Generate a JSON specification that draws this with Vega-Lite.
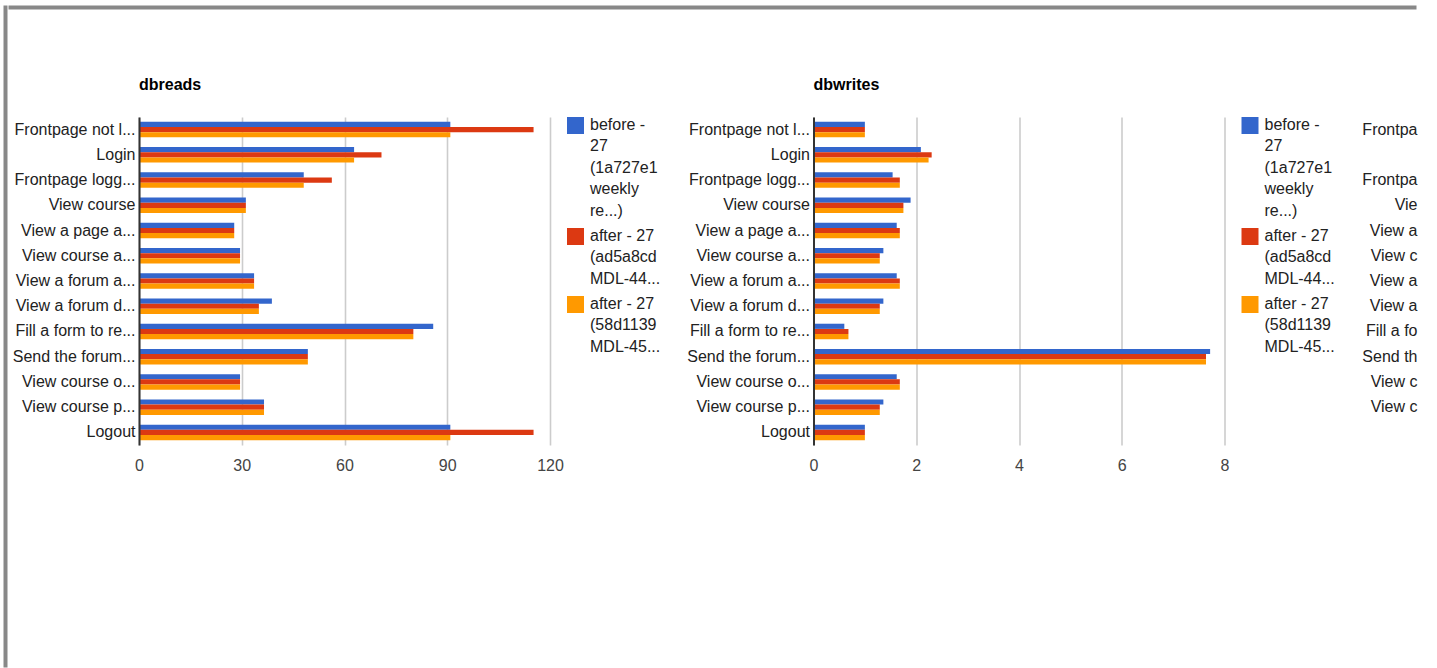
{
  "$schema": "https://vega.github.io/schema/vega-lite/v6.json",
  "background": "#ffffff",
  "padding": {"left": 3, "top": 5, "right": 0, "bottom": 0},
  "config": {
    "font": "Liberation Sans",
    "view": {"stroke": null},
    "axis": {"ticks": false, "tickSize": 0, "labelFontSize": 16, "labelFont": "Liberation Sans"},
    "axisX": {"domain": false, "grid": true, "gridColor": "#cccccc", "gridWidth": 1.6, "labelColor": "#444444", "labelPadding": 12, "labelFlush": false},
    "legend": {"orient": "right", "offset": 17, "symbolType": "square", "symbolSize": 289, "symbolStrokeWidth": 0, "symbolOpacity": 1, "labelFontSize": 16, "labelFont": "Liberation Sans", "labelColor": "#222222", "labelOffset": 6, "labelBaseline": "line-top", "rowPadding": 8, "padding": 0, "labelLimit": 200},
    "title": {"anchor": "start", "frame": "group", "fontSize": 16, "fontWeight": "bold", "color": "#000000", "offset": 24, "baseline": "alphabetic", "font": "Liberation Sans"}
  },
  "datasets": {
    "tasks": [
      {"task": "Frontpage not l..."}, {"task": "Login"}, {"task": "Frontpage logg..."}, {"task": "View course"},
      {"task": "View a page a..."}, {"task": "View course a..."}, {"task": "View a forum a..."}, {"task": "View a forum d..."},
      {"task": "Fill a form to re..."}, {"task": "Send the forum..."}, {"task": "View course o..."}, {"task": "View course p..."}, {"task": "Logout"}
    ],
    "dbreads": [
      {"task": "Frontpage not l...", "series": "before - 27 (1a727e1 weekly re...)", "value": 90.9},
      {"task": "Frontpage not l...", "series": "after - 27 (ad5a8cd MDL-44...)", "value": 115.2},
      {"task": "Frontpage not l...", "series": "after - 27 (58d1139 MDL-45...)", "value": 90.9},
      {"task": "Login", "series": "before - 27 (1a727e1 weekly re...)", "value": 62.8},
      {"task": "Login", "series": "after - 27 (ad5a8cd MDL-44...)", "value": 70.8},
      {"task": "Login", "series": "after - 27 (58d1139 MDL-45...)", "value": 62.8},
      {"task": "Frontpage logg...", "series": "before - 27 (1a727e1 weekly re...)", "value": 48.1},
      {"task": "Frontpage logg...", "series": "after - 27 (ad5a8cd MDL-44...)", "value": 56.3},
      {"task": "Frontpage logg...", "series": "after - 27 (58d1139 MDL-45...)", "value": 48.1},
      {"task": "View course", "series": "before - 27 (1a727e1 weekly re...)", "value": 31.2},
      {"task": "View course", "series": "after - 27 (ad5a8cd MDL-44...)", "value": 31.2},
      {"task": "View course", "series": "after - 27 (58d1139 MDL-45...)", "value": 31.2},
      {"task": "View a page a...", "series": "before - 27 (1a727e1 weekly re...)", "value": 27.8},
      {"task": "View a page a...", "series": "after - 27 (ad5a8cd MDL-44...)", "value": 27.8},
      {"task": "View a page a...", "series": "after - 27 (58d1139 MDL-45...)", "value": 27.8},
      {"task": "View course a...", "series": "before - 27 (1a727e1 weekly re...)", "value": 29.5},
      {"task": "View course a...", "series": "after - 27 (ad5a8cd MDL-44...)", "value": 29.5},
      {"task": "View course a...", "series": "after - 27 (58d1139 MDL-45...)", "value": 29.5},
      {"task": "View a forum a...", "series": "before - 27 (1a727e1 weekly re...)", "value": 33.6},
      {"task": "View a forum a...", "series": "after - 27 (ad5a8cd MDL-44...)", "value": 33.6},
      {"task": "View a forum a...", "series": "after - 27 (58d1139 MDL-45...)", "value": 33.6},
      {"task": "View a forum d...", "series": "before - 27 (1a727e1 weekly re...)", "value": 38.8},
      {"task": "View a forum d...", "series": "after - 27 (ad5a8cd MDL-44...)", "value": 35.0},
      {"task": "View a forum d...", "series": "after - 27 (58d1139 MDL-45...)", "value": 35.0},
      {"task": "Fill a form to re...", "series": "before - 27 (1a727e1 weekly re...)", "value": 85.9},
      {"task": "Fill a form to re...", "series": "after - 27 (ad5a8cd MDL-44...)", "value": 80.1},
      {"task": "Fill a form to re...", "series": "after - 27 (58d1139 MDL-45...)", "value": 80.1},
      {"task": "Send the forum...", "series": "before - 27 (1a727e1 weekly re...)", "value": 49.3},
      {"task": "Send the forum...", "series": "after - 27 (ad5a8cd MDL-44...)", "value": 49.3},
      {"task": "Send the forum...", "series": "after - 27 (58d1139 MDL-45...)", "value": 49.3},
      {"task": "View course o...", "series": "before - 27 (1a727e1 weekly re...)", "value": 29.5},
      {"task": "View course o...", "series": "after - 27 (ad5a8cd MDL-44...)", "value": 29.5},
      {"task": "View course o...", "series": "after - 27 (58d1139 MDL-45...)", "value": 29.5},
      {"task": "View course p...", "series": "before - 27 (1a727e1 weekly re...)", "value": 36.5},
      {"task": "View course p...", "series": "after - 27 (ad5a8cd MDL-44...)", "value": 36.5},
      {"task": "View course p...", "series": "after - 27 (58d1139 MDL-45...)", "value": 36.5},
      {"task": "Logout", "series": "before - 27 (1a727e1 weekly re...)", "value": 90.9},
      {"task": "Logout", "series": "after - 27 (ad5a8cd MDL-44...)", "value": 115.2},
      {"task": "Logout", "series": "after - 27 (58d1139 MDL-45...)", "value": 90.9}
    ],
    "dbwrites": [
      {"task": "Frontpage not l...", "series": "before - 27 (1a727e1 weekly re...)", "value": 1.0},
      {"task": "Frontpage not l...", "series": "after - 27 (ad5a8cd MDL-44...)", "value": 1.0},
      {"task": "Frontpage not l...", "series": "after - 27 (58d1139 MDL-45...)", "value": 1.0},
      {"task": "Login", "series": "before - 27 (1a727e1 weekly re...)", "value": 2.09},
      {"task": "Login", "series": "after - 27 (ad5a8cd MDL-44...)", "value": 2.3},
      {"task": "Login", "series": "after - 27 (58d1139 MDL-45...)", "value": 2.24},
      {"task": "Frontpage logg...", "series": "before - 27 (1a727e1 weekly re...)", "value": 1.54},
      {"task": "Frontpage logg...", "series": "after - 27 (ad5a8cd MDL-44...)", "value": 1.68},
      {"task": "Frontpage logg...", "series": "after - 27 (58d1139 MDL-45...)", "value": 1.68},
      {"task": "View course", "series": "before - 27 (1a727e1 weekly re...)", "value": 1.89},
      {"task": "View course", "series": "after - 27 (ad5a8cd MDL-44...)", "value": 1.75},
      {"task": "View course", "series": "after - 27 (58d1139 MDL-45...)", "value": 1.75},
      {"task": "View a page a...", "series": "before - 27 (1a727e1 weekly re...)", "value": 1.62},
      {"task": "View a page a...", "series": "after - 27 (ad5a8cd MDL-44...)", "value": 1.68},
      {"task": "View a page a...", "series": "after - 27 (58d1139 MDL-45...)", "value": 1.68},
      {"task": "View course a...", "series": "before - 27 (1a727e1 weekly re...)", "value": 1.36},
      {"task": "View course a...", "series": "after - 27 (ad5a8cd MDL-44...)", "value": 1.29},
      {"task": "View course a...", "series": "after - 27 (58d1139 MDL-45...)", "value": 1.29},
      {"task": "View a forum a...", "series": "before - 27 (1a727e1 weekly re...)", "value": 1.62},
      {"task": "View a forum a...", "series": "after - 27 (ad5a8cd MDL-44...)", "value": 1.68},
      {"task": "View a forum a...", "series": "after - 27 (58d1139 MDL-45...)", "value": 1.68},
      {"task": "View a forum d...", "series": "before - 27 (1a727e1 weekly re...)", "value": 1.36},
      {"task": "View a forum d...", "series": "after - 27 (ad5a8cd MDL-44...)", "value": 1.29},
      {"task": "View a forum d...", "series": "after - 27 (58d1139 MDL-45...)", "value": 1.29},
      {"task": "Fill a form to re...", "series": "before - 27 (1a727e1 weekly re...)", "value": 0.6},
      {"task": "Fill a form to re...", "series": "after - 27 (ad5a8cd MDL-44...)", "value": 0.68},
      {"task": "Fill a form to re...", "series": "after - 27 (58d1139 MDL-45...)", "value": 0.68},
      {"task": "Send the forum...", "series": "before - 27 (1a727e1 weekly re...)", "value": 7.72},
      {"task": "Send the forum...", "series": "after - 27 (ad5a8cd MDL-44...)", "value": 7.64},
      {"task": "Send the forum...", "series": "after - 27 (58d1139 MDL-45...)", "value": 7.64},
      {"task": "View course o...", "series": "before - 27 (1a727e1 weekly re...)", "value": 1.62},
      {"task": "View course o...", "series": "after - 27 (ad5a8cd MDL-44...)", "value": 1.68},
      {"task": "View course o...", "series": "after - 27 (58d1139 MDL-45...)", "value": 1.68},
      {"task": "View course p...", "series": "before - 27 (1a727e1 weekly re...)", "value": 1.36},
      {"task": "View course p...", "series": "after - 27 (ad5a8cd MDL-44...)", "value": 1.29},
      {"task": "View course p...", "series": "after - 27 (58d1139 MDL-45...)", "value": 1.29},
      {"task": "Logout", "series": "before - 27 (1a727e1 weekly re...)", "value": 1.0},
      {"task": "Logout", "series": "after - 27 (ad5a8cd MDL-44...)", "value": 1.0},
      {"task": "Logout", "series": "after - 27 (58d1139 MDL-45...)", "value": 1.0}
    ]
  },
  "spacing": 0,
  "hconcat": [
    {
      "data": {"values": []},
      "mark": {"type": "point", "opacity": 0},
      "encoding": {},
      "width": 1, "height": 659,
      "view": {"fill": "#888888", "stroke": "#888888", "strokeWidth": 3}
    },
    {
      "spacing": 67,
      "vconcat": [
        {
          "data": {"values": []},
          "mark": {"type": "point", "opacity": 0},
          "encoding": {},
          "width": 1405, "height": 1,
          "view": {"fill": "#888888", "stroke": "#888888", "strokeWidth": 3}
        },
        {
          "spacing": 0,
          "hconcat": [
            {
              "data": {"values": []},
              "mark": {"type": "point", "opacity": 0},
              "encoding": {},
              "width": 1.3, "height": 1,
              "view": {"fill": "#ffffff", "stroke": null}
            },
            {
              "spacing": 25.5,
              "resolve": {"scale": {"color": "independent", "x": "independent", "y": "independent", "yOffset": "independent"}, "legend": {"color": "independent"}},
              "hconcat": [
                {
                  "title": {"text": "dbreads"},
                  "data": {"name": "dbreads"},
                  "width": 411, "height": 328,
                  "mark": {"type": "bar"},
                  "encoding": {
                    "y": {"field": "task", "type": "nominal", "sort": null, "scale": {"paddingInner": 0.386, "paddingOuter": 0.193},
                          "axis": {"title": null, "domain": true, "domainColor": "#333333", "domainWidth": 2, "labelColor": "#222222", "labelPadding": 4, "zindex": 1}},
                    "yOffset": {"field": "series", "type": "nominal", "sort": ["before - 27 (1a727e1 weekly re...)", "after - 27 (ad5a8cd MDL-44...)", "after - 27 (58d1139 MDL-45...)"], "scale": {"paddingInner": 0, "paddingOuter": 0}},
                    "x": {"field": "value", "type": "quantitative", "scale": {"domain": [0, 120], "nice": false},
                          "axis": {"title": null, "values": [0, 30, 60, 90, 120]}},
                    "color": {"field": "series", "type": "nominal",
                              "scale": {"domain": ["before - 27 (1a727e1 weekly re...)", "after - 27 (ad5a8cd MDL-44...)", "after - 27 (58d1139 MDL-45...)"], "range": ["#3366cc", "#dc3912", "#ff9900"]},
                              "legend": {"title": null,
                                         "labelExpr": "datum.label == 'before - 27 (1a727e1 weekly re...)' ? ['before -', '27', '(1a727e1', 'weekly', 're...)'] : datum.label == 'after - 27 (ad5a8cd MDL-44...)' ? ['after - 27', '(ad5a8cd', 'MDL-44...'] : ['after - 27', '(58d1139', 'MDL-45...']",
                                         "encoding": {"labels": {"lineHeight": {"value": 21.5}, "dy": {"value": -10.75}}}}}
                  }
                },
                {
                  "title": {"text": "dbwrites"},
                  "data": {"name": "dbwrites"},
                  "width": 411, "height": 328,
                  "mark": {"type": "bar"},
                  "encoding": {
                    "y": {"field": "task", "type": "nominal", "sort": null, "scale": {"paddingInner": 0.386, "paddingOuter": 0.193},
                          "axis": {"title": null, "domain": true, "domainColor": "#333333", "domainWidth": 2, "labelColor": "#222222", "labelPadding": 4, "zindex": 1}},
                    "yOffset": {"field": "series", "type": "nominal", "sort": ["before - 27 (1a727e1 weekly re...)", "after - 27 (ad5a8cd MDL-44...)", "after - 27 (58d1139 MDL-45...)"], "scale": {"paddingInner": 0, "paddingOuter": 0}},
                    "x": {"field": "value", "type": "quantitative", "scale": {"domain": [0, 8], "nice": false},
                          "axis": {"title": null, "values": [0, 2, 4, 6, 8]}},
                    "color": {"field": "series", "type": "nominal",
                              "scale": {"domain": ["before - 27 (1a727e1 weekly re...)", "after - 27 (ad5a8cd MDL-44...)", "after - 27 (58d1139 MDL-45...)"], "range": ["#3366cc", "#dc3912", "#ff9900"]},
                              "legend": {"title": null,
                                         "labelExpr": "datum.label == 'before - 27 (1a727e1 weekly re...)' ? ['before -', '27', '(1a727e1', 'weekly', 're...)'] : datum.label == 'after - 27 (ad5a8cd MDL-44...)' ? ['after - 27', '(ad5a8cd', 'MDL-44...'] : ['after - 27', '(58d1139', 'MDL-45...']",
                                         "encoding": {"labels": {"lineHeight": {"value": 21.5}, "dy": {"value": -10.75}}}}}
                  }
                },
                {
                  "title": {"text": " "},
                  "data": {"name": "tasks"},
                  "width": 1, "height": 328,
                  "mark": {"type": "rule", "opacity": 0},
                  "encoding": {
                    "y": {"field": "task", "type": "nominal", "sort": null, "scale": {"paddingInner": 0.386, "paddingOuter": 0.193},
                          "axis": {"title": null, "domain": false, "labelColor": "#222222", "labelPadding": 4,
                                   "labelExpr": "['Frontpa', '', 'Frontpa', 'Vie', 'View a', 'View c', 'View a', 'View a', 'Fill a fo', 'Send th', 'View c', 'View c', ''][indexof(['Frontpage not l...', 'Login', 'Frontpage logg...', 'View course', 'View a page a...', 'View course a...', 'View a forum a...', 'View a forum d...', 'Fill a form to re...', 'Send the forum...', 'View course o...', 'View course p...', 'Logout'], datum.value)]"}}
                  }
                }
              ]
            }
          ]
        }
      ]
    }
  ]
}
